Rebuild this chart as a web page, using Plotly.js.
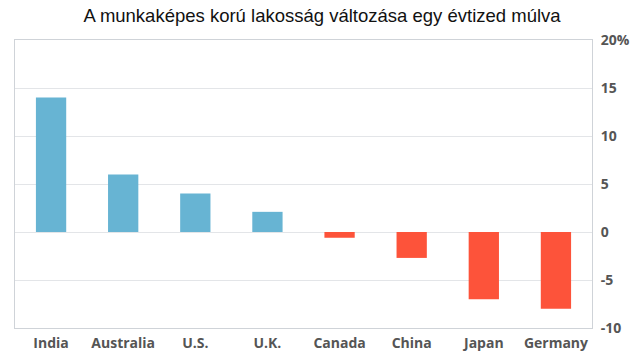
<!DOCTYPE html>
<html><head><meta charset="utf-8">
<script src="https://cdn.plot.ly/plotly-3.0.1.min.js"></script>
<style>html,body{margin:0;padding:0;background:#fff}#c{width:644px;height:355px}</style>
</head><body><div id="c"></div>
<script>
const categories = ["India","Australia","U.S.","U.K.","Canada","China","Japan","Germany"];
const values = [14, 6, 4, 2.1, -0.6, -2.7, -7, -8];
const tickVals = [-10,-5,0,5,10,15,20];
const tickText = ["-10","-5","0","5","10","15","20%"];
const colors = values.map(v => v >= 0 ? "#67b4d3" : "#fd533a");
Plotly.newPlot("c", [{
  type: "bar", x: categories, y: values, marker: {color: colors}, width: 0.42, hoverinfo: "none"
}], {
  width: 644, height: 355,
  margin: {l: 15, r: 52, t: 40, b: 27},
  paper_bgcolor: "#fff", plot_bgcolor: "#fff",
  title: {text: "A munkaképes korú lakosság változása egy évtized múlva", x: 0.5, xanchor: "center", y: 0.957, yanchor: "middle",
    font: {family: "Liberation Sans, Arial, sans-serif", size: 18.5, color: "#111"}},
  xaxis: {showline: true, mirror: true, linecolor: "#cfd3d8", linewidth: 1, showgrid: false, ticks: "",
    tickfont: {family: "Open Sans, sans-serif", size: 14, color: "#555", weight: "bold"}, fixedrange: true, ticklabelstandoff: 2},
  yaxis: {side: "right", range: [-10, 20], tickvals: tickVals, ticktext: tickText, showline: true, mirror: true,
    linecolor: "#cfd3d8", linewidth: 1, gridcolor: "#e3e5e8", zeroline: false, ticks: "",
    tickfont: {family: "Open Sans, sans-serif", size: 14, color: "#555", weight: "bold"}, ticklabelstandoff: 5},
  showlegend: false
}, {displayModeBar: false, staticPlot: true});
</script></body></html>
